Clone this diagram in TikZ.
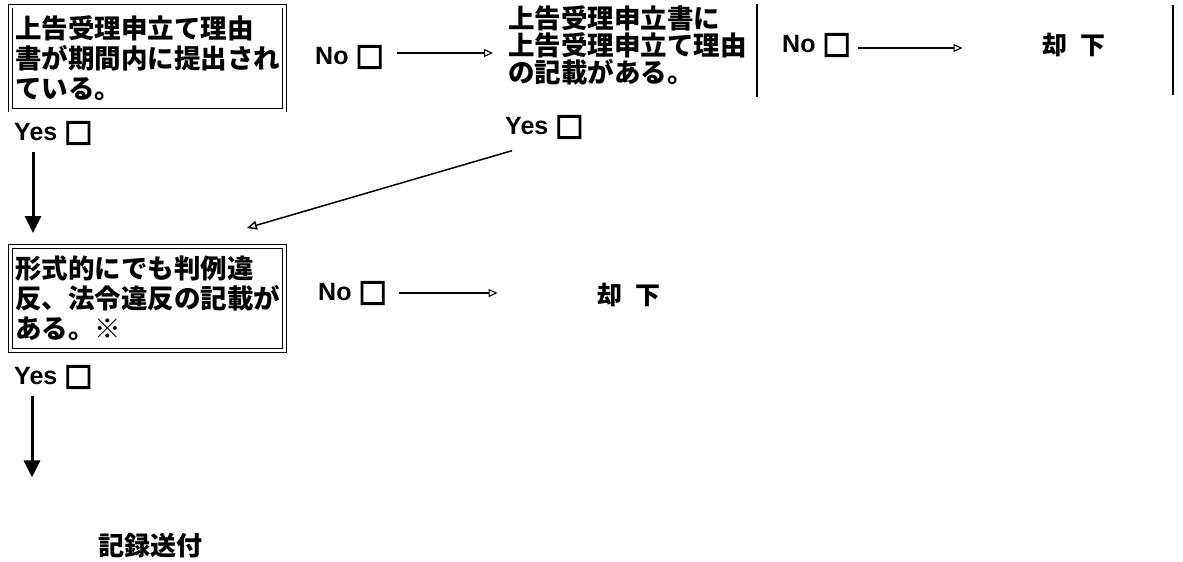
\documentclass[tikz,border=0pt]{standalone}
\usepackage{fontspec}
\setmainfont{Liberation Sans}
\newfontfamily\jp{Noto Sans CJK JP}
\newfontfamily\sqfont{DejaVu Sans}[FakeBold=4]
\usetikzlibrary{arrows.meta}

\newcommand{\chk}{{\sqfont\fontsize{30}{30}\selectfont □}}

\tikzset{
	askbox/.style={draw,double,double distance=3pt,line width=0.8pt,minimum width=274pt,minimum height=104pt,inner sep=3pt,text width=265pt,align=left,font=\jp\bfseries\fontsize{26.5}{30}\selectfont},
	asktext/.style={anchor=west,inner sep=0pt,align=left,font=\jp\bfseries\fontsize{26.5}{27}\selectfont},
	answer/.style={anchor=west,inner sep=0pt,font=\bfseries\fontsize{25}{27}\selectfont},
	result/.style={inner sep=0pt,font=\jp\bfseries\fontsize{25}{27}\selectfont},
	noarrow/.style={line width=1.1pt,-{Triangle[open,width=8pt,length=9pt]}},
	yesarrow/.style={line width=3pt,-{Triangle[width=16pt,length=17pt]}},
}

\begin{document}
\begin{tikzpicture}[x=1pt,y=-1pt]
	\useasboundingbox (0,0) rectangle (1183,562);

	% first question
	\node[askbox] (b1) at (147.5,58) {上告受理申立て理由\\書が期間内に提出され\\ている。};
	\node[answer] (no1) at (315,57) {No \chk};
	\node[answer] (yes1) at (14,133) {Yes \chk};

	% second question
	\node[asktext] (b2) at (508,45) {上告受理申立書に\\上告受理申立て理由\\の記載がある。};
	\draw[line width=1.2pt] (757,4) -- (757,97);
	\node[answer] (no2) at (782,45) {No \chk};
	\node[answer] (yes2) at (505,127) {Yes \chk};
	\node[result] (res2) at (1074,45) {却\enspace 下};
	\draw[line width=1.2pt] (1173,5) -- (1173,95);

	% third question
	\node[askbox] (b3) at (147.5,298.5) {形式的にでも判例違\\反、法令違反の記載が\\ある。※};
	\node[answer] (no3) at (318,293) {No \chk};
	\node[answer] (yes3) at (14,377) {Yes \chk};
	\node[result] (res3) at (629,295) {却\enspace 下};

	\node[result,font=\jp\bfseries\fontsize{26}{27}\selectfont] (send) at (150,546) {記録送付};

	\coordinate (d2) at (247,228);

	% arrows
	\draw[noarrow] ([xshift=13pt,yshift=4pt]no1.east) -- ([xshift=-15pt,yshift=4pt]no1.east -| b2.west);
	\draw[noarrow] ([xshift=7pt,yshift=-3pt]no2.east) -- ([xshift=-80pt,yshift=-3pt]no2.east -| res2.west);
	\draw[noarrow] ([xshift=12pt]no3.east) -- ([xshift=-100pt]no3.east -| res3.west);
	\draw[line width=1.5pt,-{Triangle[open,width=9pt,length=10pt]}] ([xshift=7pt,yshift=-12pt]yes2.south west) -- (d2);
	\draw[yesarrow,shorten <=7pt,shorten >=13pt] ([xshift=19pt]yes1.south west) -- ([xshift=19pt]yes1.south west |- b3.north);
	\draw[yesarrow,shorten <=7pt,shorten >=56pt] ([xshift=18pt]yes3.south west) -- ([xshift=18pt]yes3.south west |- send.north);
\end{tikzpicture}
\end{document}
